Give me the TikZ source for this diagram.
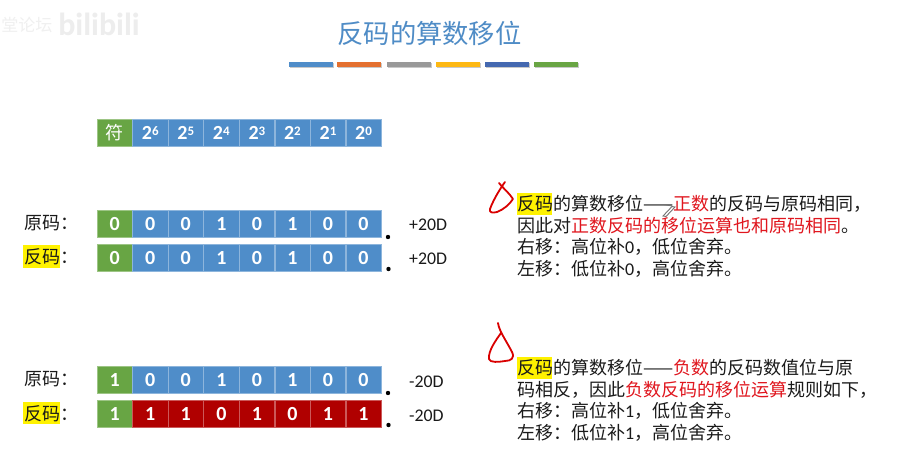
\documentclass[tikz,border=0pt]{standalone}
\usepackage{fontspec}
\setmainfont{Noto Sans CJK SC}
\newfontfamily\latf{Carlito}
\definecolor{cblue}{HTML}{4F8DC9}
\definecolor{cgreen}{HTML}{68A544}
\definecolor{cred}{HTML}{B00000}
\definecolor{ctitle}{HTML}{4F8CC6}
\definecolor{hlred}{HTML}{E0161E}
\definecolor{ink}{HTML}{1A1A1A}
\definecolor{E}{HTML}{E4702F}\definecolor{G}{HTML}{999999}\definecolor{Y}{HTML}{FDB813}\definecolor{D}{HTML}{4468B0}\definecolor{V}{HTML}{69A544}
\newcommand{\hl}[1]{\textcolor{hlred}{#1}}
\newcommand{\lt}[1]{{\latf #1}}
\tikzset{
  x=1pt,y=-1pt,
  cellbox/.style={draw=#1!65!white,line width=0.7pt,fill=#1,minimum width=35.2pt,minimum height=27.4pt,inner sep=0pt,text=white,font=\latf\bfseries\fontsize{20}{20}\selectfont},
  txt/.style={anchor=base west,inner sep=0pt,text=ink,font=\fontsize{18}{20}\selectfont},
  val/.style={anchor=base west,inner sep=0pt,text=ink,font=\latf\fontsize{17.8}{20}\selectfont},
  hilite/.style={fill=yellow,draw=none},
  accentbar/.style={fill=#1,draw=none},
  barshadow/.style={fill=black!35,draw=none,opacity=.6},
  pen/.style={draw=red!85!black,line width=1.8pt,line cap=round,line join=round},
  blackdot/.style={circle,fill=black,inner sep=0pt,minimum size=4.4pt},
}
\newcommand{\bitrow}[4]{% name, top y, first bit, rest bits
  \node[cellbox=cgreen] (#1s) at (114.7,#2+13.7) {#3};
  \foreach \b [count=\i] in {#4}{
    \node[cellbox=\rowcol] (#1\i) at (114.7+35.55*\i,#2+13.7) {\b};
  }
}
\begin{document}
\begin{tikzpicture}
\useasboundingbox (0,0) rectangle (898,474);
\fill[white] (0,0) rectangle (898,474);
% watermark
\node[anchor=center,inner sep=0pt,text=black!6,font=\fontsize{17}{17}\selectfont] (wm1) at (27,25) {堂论坛};
\node[anchor=center,inner sep=0pt,text=black!7,font=\latf\bfseries\fontsize{32}{32}\selectfont] (wm2) at (99,24) {bilibili};
% title
\node[inner sep=0pt,text=ctitle,font=\fontsize{26.3}{30}\selectfont] (title) at (429.5,33) {反码的算数移位};
% bars
\foreach \xa/\c in {289/cblue,337/E,387/G,436/Y,485/D,534/V}{
  \fill[barshadow] (\xa+0.6,63) rectangle (\xa+44.6,68);
}
\foreach \xa/\c in {289/cblue,337/E,387/G,436/Y,485/D,534/V}{
  \fill[accentbar=\c] (\xa,62) rectangle (\xa+44,67);
}
% header row
\def\rowcol{cblue}
\node[cellbox=cgreen,font=\fontsize{18}{18}\selectfont] (hs) at (114.7,133) {符};
\foreach \p [count=\i] in {6,5,4,3,2,1,0}{
  \node[cellbox=cblue] (h\i) at (114.7+35.55*\i,133) {2\raisebox{4.5pt}{\fontsize{13}{13}\selectfont\p}};
}
% bit rows
\def\rowcol{cblue}
\bitrow{a}{210}{0}{0,0,1,0,1,0,0}
\bitrow{b}{244}{0}{0,0,1,0,1,0,0}
\bitrow{c}{366}{1}{0,0,1,0,1,0,0}
\def\rowcol{cred}
\bitrow{d}{400}{1}{1,1,0,1,0,1,1}
% highlights
\fill[hilite] (23.3,245) rectangle (60,268);
\fill[hilite] (23.3,402) rectangle (60,424);
\fill[hilite] (516.5,193) rectangle (552,214.5);
\fill[hilite] (516.5,357) rectangle (552,379);
% row labels
\node[txt] (la) at (24,229) {原码：};
\node[txt] (lb) at (24,263) {反码：};
\node[txt] (lc) at (24,385) {原码：};
\node[txt] (ld) at (24,420) {反码：};
% values
\node[val] (va) at (409,230) {+20D};
\node[val] (vb) at (409,264) {+20D};
\node[val] (vc) at (409,387) {-20D};
\node[val] (vd) at (409,421) {-20D};
% dots
\node[blackdot] (da) at (388,237) {};
\node[blackdot] (db) at (388.5,269) {};
\node[blackdot] (dc) at (388,393) {};
\node[blackdot] (dd) at (388.5,425) {};
% right text
\node[txt] (t1) at (517,210) {反码的算数移位——\hl{正数}的反码与原码相同，};
\node[txt] (t2) at (517,232) {因此对\hl{正数反码的移位运算也和原码相同}。};
\node[txt] (t3) at (517,253.5) {右移：高位补\lt{0}，低位舍弃。};
\node[txt] (t4) at (517,275) {左移：低位补\lt{0}，高位舍弃。};
\node[txt] (t5) at (517,374) {反码的算数移位——\hl{负数}的反码数值位与原};
\node[txt] (t6) at (517,396) {码相反，因此\hl{负数反码的移位运算}规则如下，};
\node[txt] (t7) at (517,417.5) {右移：高位补\lt{1}，低位舍弃。};
\node[txt] (t8) at (517,439) {左移：低位补\lt{1}，高位舍弃。};
% pen marks
\draw[pen] (505,182) .. controls (502,186) and (494,198) .. (490,209) .. controls (489,213) and (493,213) .. (497,212) .. controls (503,210) and (510,204) .. (513,199) .. controls (510,194) and (503,188) .. (499,183);
\draw[pen] (498,323) .. controls (499,331) and (507,342) .. (512,352) .. controls (515,358) and (511,361) .. (505,361) .. controls (499,362) and (490,363) .. (489,359) .. controls (488,351) and (496,340) .. (501,333);
% pencil cursor
\draw[black!55,line width=0.9pt,fill=white] (663,216) -- (672,206.5) -- (675,207) -- (666,216.5) -- cycle;
\draw[black!55,line width=0.9pt] (664,204.5) -- (672,206);
\end{tikzpicture}
\end{document}
